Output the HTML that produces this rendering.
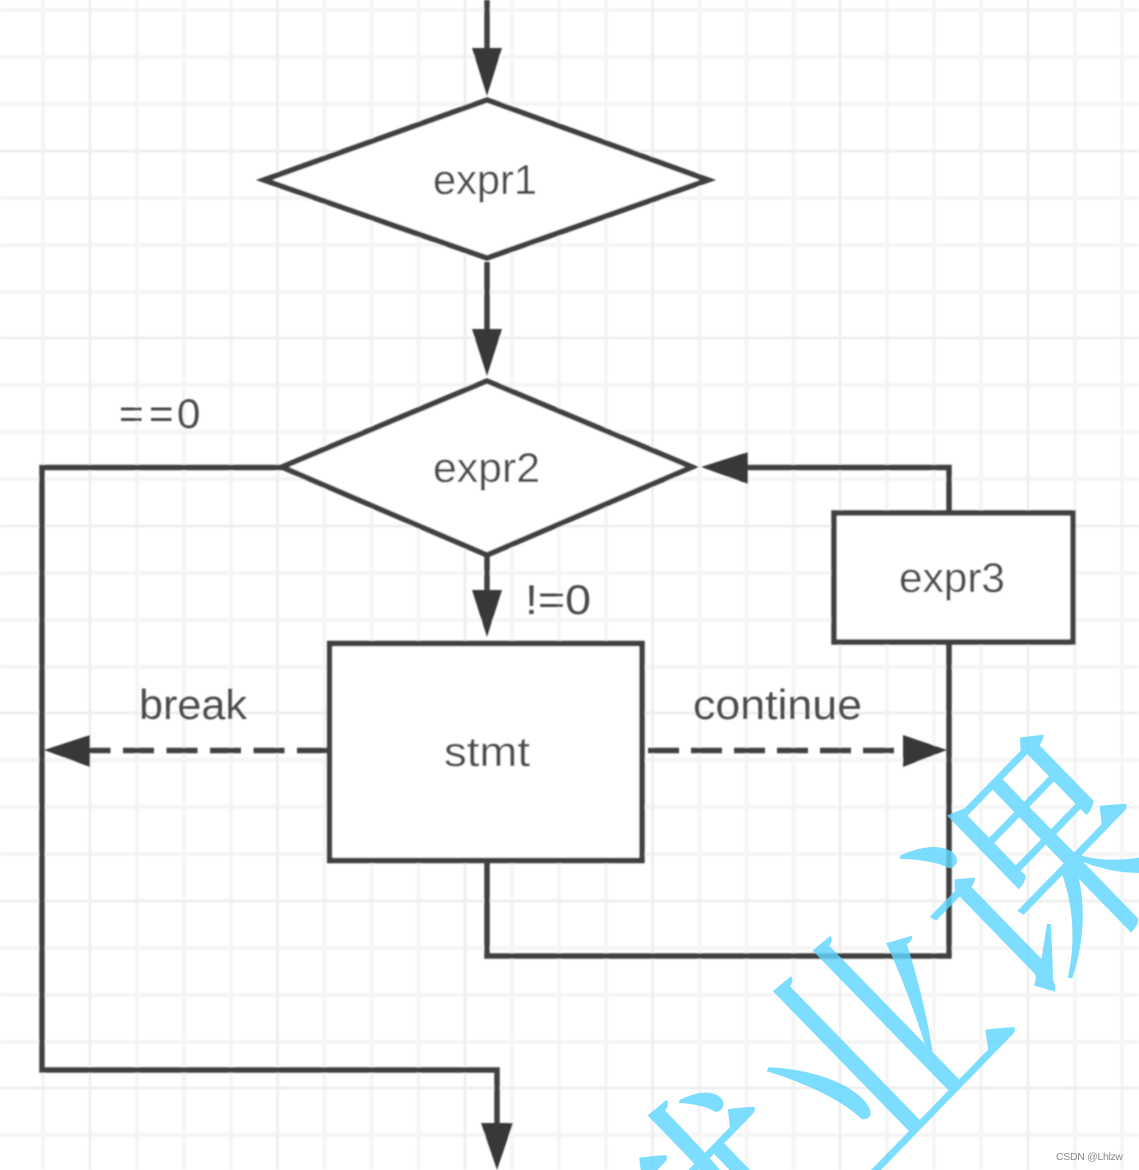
<!DOCTYPE html>
<html>
<head>
<meta charset="utf-8">
<style>
html,body{margin:0;padding:0;background:#fff;width:1139px;height:1170px;overflow:hidden}
svg{display:block;overflow:hidden}
.t{font-family:"Liberation Sans","DejaVu Sans",sans-serif;font-size:42px;fill:#4c4c4c}
</style>
</head>
<body>
<svg width="1139" height="1170" viewBox="0 0 1139 1170" xmlns="http://www.w3.org/2000/svg">
<defs>
<filter id="b" x="-5%" y="-5%" width="110%" height="110%"><feGaussianBlur stdDeviation="0.8"/></filter>
<clipPath id="c"><rect width="1139" height="1170"/></clipPath>
</defs>
<rect width="1139" height="1170" fill="#fff"/>
<g filter="url(#b)">
<g stroke="#f5f5f5" stroke-width="4">
<path d="M43 0V1170M137 0V1170M184 0V1170M231 0V1170M324.500 0V1170M371.500 0V1170M418.500 0V1170M512 0V1170M559 0V1170M606 0V1170M699.500 0V1170M746.500 0V1170M793.500 0V1170M887 0V1170M934 0V1170M981 0V1170M1075 0V1170M1122 0V1170"/>
<path d="M0 10H1139M0 57H1139M0 104H1139M0 198H1139M0 245H1139M0 292H1139M0 385H1139M0 432H1139M0 479H1139M0 573H1139M0 620H1139M0 667H1139M0 760H1139M0 807H1139M0 854H1139M0 948H1139M0 995H1139M0 1042H1139M0 1135H1139"/>
</g>
<g stroke="#efefef" stroke-width="3">
<path d="M90 0V1170M277.500 0V1170M465 0V1170M652.500 0V1170M840 0V1170M1028 0V1170"/>
<path d="M0 151H1139M0 338H1139M0 526H1139M0 713H1139M0 901H1139M0 1088H1139"/>
</g>

<g fill="#fff" stroke="#3f3f3f" stroke-width="5.500" stroke-linejoin="miter">
<polygon points="487,100 708,180 487,258 264,180"/>
<polygon points="487,381 692,467 487,555 282,467"/>
<rect x="834" y="513" width="239" height="129"/>
<rect x="329.500" y="643.500" width="312.500" height="217"/>
</g>

<g fill="none" stroke="#3f3f3f" stroke-width="5.500">
<path d="M487 0V60"/>
<path d="M487 262V340"/>
<path d="M487 555V600"/>
<path d="M282 467.500H42V1070H497V1130"/>
<path d="M949 513V467.500H740"/>
<path d="M949 642V956H487V862"/>
<path d="M328 750.500H85" stroke-dasharray="31 12.500"/>
<path d="M648 750.500H897" stroke-dasharray="31 12"/>
</g>

<g fill="#383838">
<polygon points="472,48 502,48 487,96"/>
<polygon points="472,329 502,329 487,376"/>
<polygon points="472,590 502,590 487,637"/>
<polygon points="481,1123 513,1123 497,1170"/>
<polygon points="748,452 748,484 701,467"/>
<polygon points="90,735 90,767 44,750"/>
<polygon points="903,735 903,767 947,750"/>
</g>

<g class="t">
<text x="433" y="194" textLength="104" lengthAdjust="spacingAndGlyphs">expr1</text>
<text x="433" y="482" textLength="107" lengthAdjust="spacingAndGlyphs">expr2</text>
<text x="899" y="592" textLength="106" lengthAdjust="spacingAndGlyphs">expr3</text>
<text x="444" y="766" textLength="86" lengthAdjust="spacingAndGlyphs">stmt</text>
<text x="119 149 177" y="428">==0</text>
<text x="525" y="614" textLength="66" lengthAdjust="spacingAndGlyphs">!=0</text>
<text x="139" y="719" textLength="108" lengthAdjust="spacingAndGlyphs">break</text>
<text x="693" y="719" textLength="169" lengthAdjust="spacingAndGlyphs">continue</text>
</g>
</g>

<g clip-path="url(#c)">
<text transform="translate(934.700 1108) scale(1.03 1.06) rotate(-45)" text-anchor="middle" font-family="'Noto Serif CJK SC',serif" font-size="230" fill="#5fd6ff" fill-opacity="0.82">就业课</text>
</g>

<text x="1056" y="1160" font-family="'Liberation Sans',sans-serif" font-size="10.500" fill="#8a8a8a" textLength="67">CSDN @Lhlzw</text>
</svg>
</body>
</html>
